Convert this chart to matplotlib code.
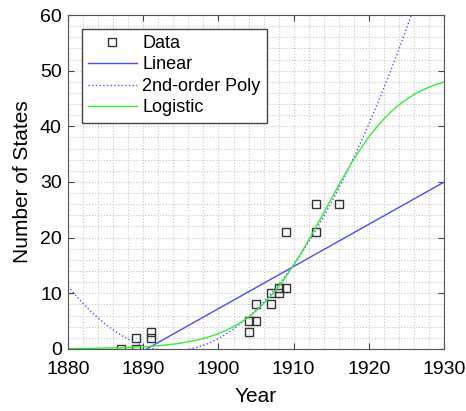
import numpy as np
import matplotlib
matplotlib.use("Agg")
import matplotlib.pyplot as plt
from matplotlib.ticker import MultipleLocator

plt.rcParams['font.family'] = ['Liberation Sans', 'DejaVu Sans']

# data
years = [1887, 1889, 1889, 1891, 1891, 1904, 1904, 1905, 1905,
         1907, 1907, 1908, 1908, 1909, 1909, 1913, 1913, 1916]
states = [0, 0, 2, 2, 3, 3, 5, 5, 8, 8, 10, 10, 11, 11, 21, 21, 26, 26]

# logistic parameters estimated from the curve
logistic_K = 50.0
logistic_r = 0.20
logistic_t0 = 1914.2

x = np.array(years, dtype=float)
y = np.array(states, dtype=float)
t = np.linspace(1880, 1930, 400)

lin = np.polyval(np.polyfit(x - 1900, y, 1), t - 1900)
quad = np.polyval(np.polyfit(x - 1900, y, 2), t - 1900)
logi = logistic_K / (1 + np.exp(-logistic_r * (t - logistic_t0)))

fig = plt.figure(figsize=(4.66, 4.11), dpi=100)
ax = fig.add_axes([0.146, 0.151, 0.807, 0.8125])

ax.plot(x, y, 's', mfc='none', mec='#333333', ms=5.5, mew=1.0, label='Data')
ax.plot(t, lin, '-', color='#4b4bff', lw=1.0, label='Linear')
ax.plot(t, quad, ':', color='#5555ff', lw=1.0, label='2nd-order Poly')
ax.plot(t, logi, '-', color='#33ee33', lw=1.0, label='Logistic')

ax.set_xlim(1880, 1930)
ax.set_ylim(0, 60)
ax.xaxis.set_major_locator(MultipleLocator(10))
ax.xaxis.set_minor_locator(MultipleLocator(2))
ax.yaxis.set_major_locator(MultipleLocator(10))
ax.yaxis.set_minor_locator(MultipleLocator(2))
ax.grid(True, which='both', color='#c8c8c8', ls=':', lw=0.8)
ax.tick_params(which='major', direction='in', top=True, right=True,
               length=4, labelsize=14, color='#444444')
ax.tick_params(axis='x', which='major', pad=9)
ax.tick_params(axis='y', which='major', pad=4.5)
ax.tick_params(which='minor', length=0)
for s in ax.spines.values():
    s.set_color('#555555')

ax.set_xlabel('Year', fontsize=15, labelpad=6)
ax.set_ylabel('Number of States', fontsize=15, labelpad=6)

leg = ax.legend(loc='upper left', fontsize=13, fancybox=False, framealpha=1,
                edgecolor='#444444', handlelength=2.7, handletextpad=0.3,
                borderaxespad=0.75, labelspacing=0.25, borderpad=0.35)
leg.get_frame().set_linewidth(1.0)

fig.savefig('out.png', dpi=100)
